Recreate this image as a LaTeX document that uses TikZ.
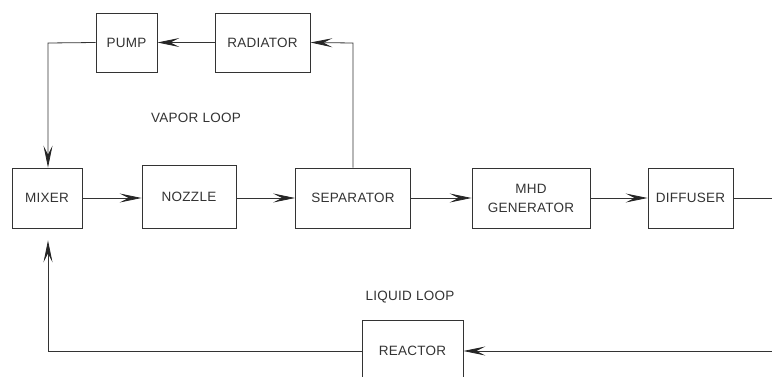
\documentclass[tikz,border=0pt]{standalone}
\usepackage{fontspec}
\setmainfont{Liberation Sans}[LetterSpace=2]
\usetikzlibrary{arrows.meta}
\begin{document}
\begin{tikzpicture}[x=1pt,y=-1pt,
  blk/.style={draw=black!80, line width=0.8pt, inner sep=0pt, rectangle,
              font=\fontsize{13.5}{19}\selectfont, text=black!80, align=center},
  flow/.style={draw=black!80, line width=0.8pt,
               -{Stealth[length=22pt,width=9pt,inset=9pt,black!85]}},
  plain/.style={draw=black!80, line width=0.8pt},
  lbl/.style={font=\fontsize{13.5}{16}\selectfont, text=black!80}
]
\useasboundingbox (0,0) rectangle (772,377);

% boxes
\node[blk, minimum width=61pt, minimum height=59pt] (pump) at (126.5,42.5) {PUMP};
\node[blk, minimum width=95pt, minimum height=59pt] (rad) at (262.5,42.5) {RADIATOR};
\node[blk, minimum width=70pt, minimum height=60pt] (mixer) at (47,198) {MIXER};
\node[blk, minimum width=94pt, minimum height=63pt] (nozzle) at (189,196.5) {NOZZLE};
\node[blk, minimum width=115pt, minimum height=60pt] (sep) at (353,198) {SEPARATOR};
\node[blk, minimum width=118pt, minimum height=60pt] (mhd) at (531,198) {MHD\\GENERATOR};
\node[blk, minimum width=85pt, minimum height=60pt] (diff) at (690.5,198) {DIFFUSER};
\node[blk, minimum width=101pt, minimum height=62pt] (reac) at (412.5,351) {REACTOR};

% labels
\node[lbl] (vapor) at (196,118) {VAPOR LOOP};
\node[lbl] (liquid) at (410,297) {LIQUID LOOP};

% free ends
\coordinate (pl) at (48,43);
\coordinate (sr) at (353,43);
\coordinate (dr) at (772,198);
\coordinate (br) at (772,351);
\coordinate (bl) at (48,351);

% vapor loop
\draw[flow] (rad.west) -- (pump.east);
\draw[flow] (sep.north -| sr) -- (sr) -- (rad.east);
\draw[flow] (pump.west) -- (pl) -- (mixer.north -| pl);

% main line
\draw[flow] (mixer.east) -- (nozzle.west |- mixer.east);
\draw[flow] (nozzle.east |- mixer.east) -- (sep.west);
\draw[flow] (sep.east) -- (mhd.west);
\draw[flow] (mhd.east) -- (diff.west);
\draw[plain] (diff.east) -- (dr);

% liquid loop
\draw[flow] (br) -- (reac.east);
\draw[plain] (reac.west) -- (bl);
\draw[flow, shorten >=12pt] (bl) -- (mixer.south -| bl);
\end{tikzpicture}
\end{document}
